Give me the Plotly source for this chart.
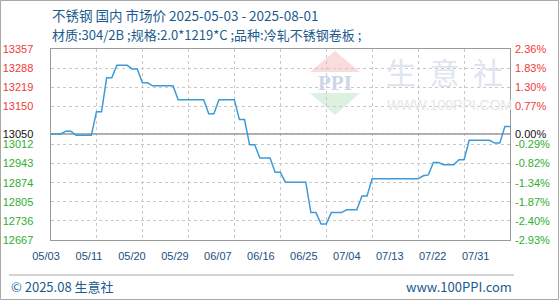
import plotly.graph_objects as go
import pandas as pd

# ---------------- data ----------------
START = "2025-05-03"
END = "2025-08-01"
dates = pd.date_range(START, END, freq="D").strftime("%Y-%m-%d").tolist()

prices = [
    13050, 13050, 13050, 13060, 13060, 13045, 13045, 13045, 13045, 13130,
    13130, 13253, 13253, 13298, 13298, 13298, 13285, 13285, 13235, 13235,
    13224, 13224, 13224, 13224, 13224, 13174, 13174, 13174, 13174, 13174,
    13174, 13123, 13123, 13174, 13174, 13174, 13174, 13102, 13102, 13011,
    13011, 12963, 12963, 12963, 12912, 12912, 12876, 12876, 12876, 12876,
    12876, 12766, 12766, 12725, 12725, 12766, 12766, 12766, 12776, 12776,
    12776, 12826, 12826, 12888, 12888, 12888, 12888, 12888, 12888, 12888,
    12888, 12888, 12888, 12899, 12902, 12947, 12947, 12939, 12939, 12939,
    12957, 12957, 13027, 13027, 13027, 13027, 13027, 13017, 13017, 13077,
    13077,
]

BASE = 13050
y_ticks = [13357, 13288, 13219, 13150, 13050, 13012, 12943, 12874, 12805, 12736, 12667]
pct_labels = ["2.36%", "1.83%", "1.30%", "0.77%", "0.00%", "-0.29%", "-0.82%",
              "-1.34%", "-1.87%", "-2.40%", "-2.93%"]
x_labels = ["05/03", "05/11", "05/20", "05/29", "06/07", "06/16", "06/25",
            "07/04", "07/13", "07/22", "07/31"]

title1 = "不锈钢 国内 市场价 2025-05-03 - 2025-08-01"
title2 = "材质:304/2B ;规格:2.0*1219*C ;品种:冷轧不锈钢卷板 ;"
footer_left = "© 2025.08 生意社"
footer_right = "www.100PPI.com"

# ---------------- layout helpers ----------------
W, H = 560, 300
L, R, T, B = 30, 50, 49, 60
PW, PH = W - L - R, H - T - B


def fx(px):
    return (px - L) / PW


def fy(py):
    return (H - B - py) / PH


RED, GREEN, BLACK = "#f23a3a", "#2fae2f", "#111111"


def col(v):
    return RED if v > BASE else (BLACK if v == BASE else GREEN)


left_text = [f'<span style="color:{col(v)}">{v}</span>' for v in y_ticks]
right_text = [f'<span style="color:{col(v)}">{t}</span>' for v, t in zip(y_ticks, pct_labels)]

BLUE_TXT = "#1b5b8f"
TICK_FONT = dict(family="Liberation Sans, Arial, sans-serif", size=11)

fig = go.Figure()
fig.add_trace(go.Scatter(
    x=dates, y=prices, mode="lines",
    line=dict(color="#3d9ad8", width=1.5),
    showlegend=False, hoverinfo="x+y",
))
# same series on the right (percent) axis, invisible, so that axis is drawn
fig.add_trace(go.Scatter(
    x=dates, y=prices, mode="lines", xaxis="x", yaxis="y2",
    line=dict(color="rgba(0,0,0,0)", width=0),
    showlegend=False, hoverinfo="skip",
))
# placeholder on the label axis (no visible marks)
fig.add_trace(go.Scatter(
    x=list(range(len(x_labels))), y=[None] * len(x_labels), mode="lines",
    xaxis="x2", yaxis="y3", showlegend=False, hoverinfo="skip",
))

# label axis geometry: labels evenly spaced, first centred at px 46, step 42.97 px
lab_step = 42.97
lab_first = 46.0
r0 = -(lab_first - L) / lab_step
r1 = r0 + PW / lab_step

fig.update_layout(
    width=W, height=H,
    margin=dict(l=L, r=R, t=T, b=B, autoexpand=False),
    paper_bgcolor="white", plot_bgcolor="rgba(0,0,0,0)",
    showlegend=False,
    xaxis=dict(
        type="date", range=[START, END], domain=[fx(50.5), 1],
        tick0=START, dtick=9 * 86400000, tickmode="linear",
        showticklabels=False, ticks="",
        showgrid=True, gridcolor="#c9c9c9", griddash="3px,3px", gridwidth=1,
        showline=True, mirror=True, linecolor="#9a9a9a", linewidth=1,
        zeroline=False, anchor="y", automargin=False,
    ),
    xaxis2=dict(
        domain=[0, 1], anchor="y3", range=[r0, r1],
        tickmode="array", tickvals=list(range(len(x_labels))), ticktext=x_labels,
        showgrid=False, showline=False, zeroline=False, ticks="",
        tickfont=dict(color="#1d4f80", **TICK_FONT),
        ticklabelstandoff=8, automargin=False,
    ),
    yaxis=dict(
        range=[y_ticks[-1], y_ticks[0]], anchor="x",
        tickmode="array", tickvals=y_ticks, ticktext=left_text,
        showgrid=True, gridcolor="#c9c9c9", griddash="3px,3px", gridwidth=1,
        showline=True, mirror=True, linecolor="#9a9a9a", linewidth=1,
        zeroline=False, ticks="", tickfont=TICK_FONT,
        ticklabelstandoff=14, automargin=False,
    ),
    yaxis2=dict(
        range=[y_ticks[-1], y_ticks[0]], overlaying="y", side="right", anchor="x",
        tickmode="array", tickvals=y_ticks, ticktext=right_text,
        showgrid=False, showline=False, zeroline=False, ticks="",
        tickfont=TICK_FONT, ticklabelstandoff=4, automargin=False,
    ),
    yaxis3=dict(
        domain=[0, 1], anchor="x2", range=[0, 1],
        showgrid=False, showline=False, zeroline=False, ticks="",
        showticklabels=False, automargin=False,
    ),
)

shapes = []
# baseline at the reference price
shapes.append(dict(type="line", xref="x", yref="y", x0=START, x1=END, y0=BASE, y1=BASE,
                   line=dict(color="#9a9a9a", width=1.5), layer="between"))
# watermark logo triangles
shapes.append(dict(type="path", xref="paper", yref="paper", layer="below",
                   path=f"M {fx(335)},{fy(51)} L {fx(360)},{fy(72)} L {fx(310)},{fy(72)} Z",
                   fillcolor="#fbdcdc", line=dict(width=0)))
shapes.append(dict(type="path", xref="paper", yref="paper", layer="below",
                   path=f"M {fx(310)},{fy(93)} L {fx(360)},{fy(93)} L {fx(335)},{fy(115)} Z",
                   fillcolor="#dcf1df", line=dict(width=0)))
# footer separator
shapes.append(dict(type="line", xref="paper", yref="paper", x0=fx(9), x1=fx(514),
                   y0=fy(275), y1=fy(275), line=dict(color="#a8a8a8", width=1)))
# outer border
shapes.append(dict(type="rect", xref="paper", yref="paper", x0=fx(0.5), x1=fx(558.5),
                   y0=fy(0.5), y1=fy(299.5), line=dict(color="#a8a8a8", width=1)))
fig.update_layout(shapes=shapes)

CJK = "Noto Sans CJK SC, Noto Sans, sans-serif"
NB = "\u00a0"
ann = [
    dict(text=title1, x=fx(50), y=fy(15), xanchor="left", yanchor="middle",
         font=dict(family=CJK, size=13.5, color=BLUE_TXT)),
    dict(text=title2, x=fx(50), y=fy(34), xanchor="left", yanchor="middle",
         font=dict(family=CJK, size=13, color=BLUE_TXT)),
    dict(text=footer_left, x=fx(9), y=fy(286), xanchor="left", yanchor="middle",
         font=dict(family=CJK, size=13, color=BLUE_TXT)),
    dict(text=footer_right, x=fx(514), y=fy(286), xanchor="right", yanchor="middle",
         font=dict(family=CJK, size=13, color=BLUE_TXT)),
    # watermark text
    dict(text="<b>PPI</b>", x=fx(335), y=fy(83), xanchor="center", yanchor="middle",
         font=dict(family="Liberation Serif, serif", size=21, color="#ccd6e8")),
    dict(text=f"生{NB*2}意{NB*2}社", x=fx(384), y=fy(71), xanchor="left", yanchor="middle",
         font=dict(family=CJK, size=30, color="#dfe5f0")),
    dict(text="WWW.100PPI.COM", x=fx(385), y=fy(105), xanchor="left", yanchor="middle",
         font=dict(family="Liberation Sans, Arial, sans-serif", size=14, color="#e6e6e6")),
]
for a in ann:
    a.update(xref="paper", yref="paper", showarrow=False)
fig.update_layout(annotations=ann)

fig.write_html("out.html")
